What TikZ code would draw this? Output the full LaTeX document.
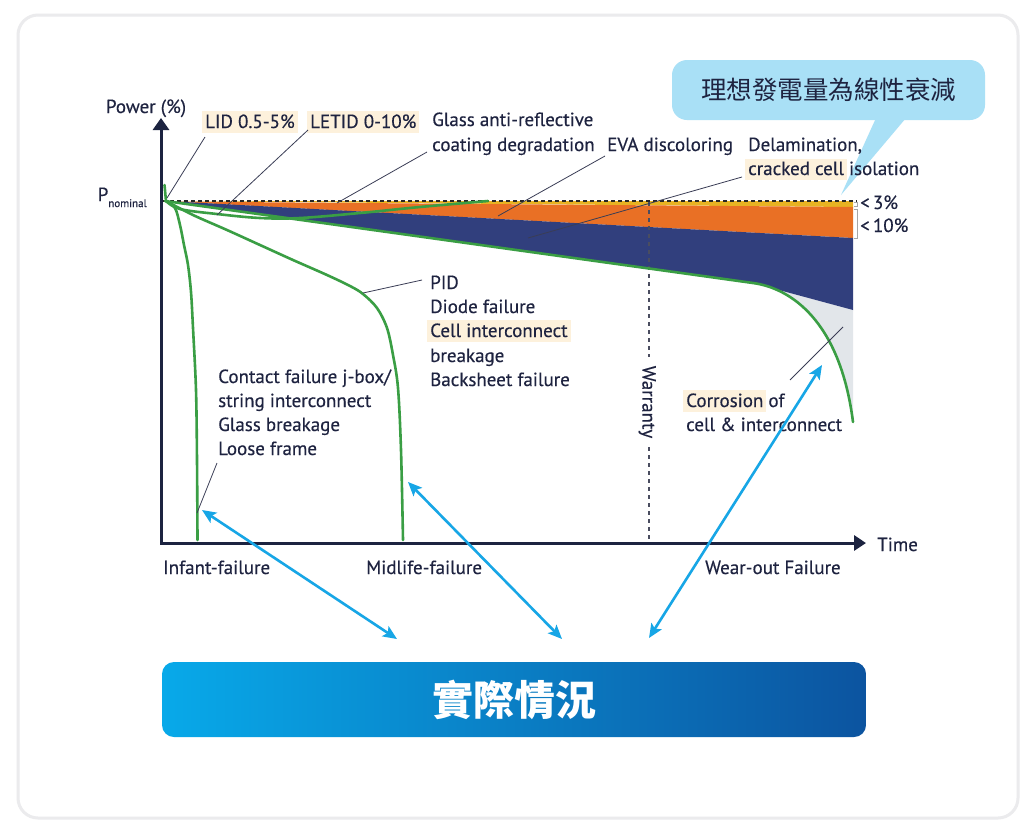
\documentclass[tikz,border=0pt]{standalone}
\usepackage{fontspec}
\setmainfont{PT Sans}[FakeBold=0.35]
\newfontfamily\cjk{Noto Sans CJK TC}
\usetikzlibrary{arrows.meta}
\definecolor{txt}{HTML}{1E2340}
\definecolor{axisc}{HTML}{1C2340}
\definecolor{grn}{HTML}{3A9E44}
\definecolor{yel}{HTML}{E8B322}
\definecolor{ora}{HTML}{E97025}
\definecolor{nav}{HTML}{313F7D}
\definecolor{gry}{HTML}{E2E6EA}
\definecolor{hl}{HTML}{FDF1DC}
\definecolor{arr}{HTML}{17A6E6}
\definecolor{bubc}{HTML}{A9E0F6}
\definecolor{frm}{HTML}{EBEBED}
\definecolor{barl}{HTML}{08A9E9}
\definecolor{barr}{HTML}{0C54A0}
\definecolor{ann}{HTML}{3A3D55}
\definecolor{warc}{HTML}{4A4D60}
\newcommand\hlbox[1]{{\setlength{\fboxsep}{3pt}\hspace{-3pt}\colorbox{hl}{\rule[-1.5pt]{0pt}{14pt}#1}\hspace{-3pt}}}
\begin{document}
\begin{tikzpicture}[x=1pt,y=-1pt,
  lbl/.style={font=\fontsize{19}{22}\selectfont, text=txt, inner sep=0pt, anchor=base west},
  grline/.style={grn, line width=2.6pt, line cap=round, line join=round},
  annline/.style={ann, line width=0.8pt},
  warline/.style={warc, line width=1.3pt, dash pattern=on 4pt off 4pt},
  bluearrow/.style={arr, line width=2.6pt, {Stealth[length=14pt,width=12pt,inset=3pt]}-{Stealth[length=14pt,width=12pt,inset=3pt]}},
  axisline/.style={axisc, line width=3pt, {Triangle[length=12pt,width=16pt]}-{Triangle[length=12pt,width=15pt]}}
]
\fill[white] (0,0) rectangle (1035,831);
\useasboundingbox (0,0) rectangle (1035,831);
\draw[frm, line width=3pt, rounded corners=20pt] (18,15) rectangle (1018,818);

% speech bubble (behind the labels)
\coordinate (tailL) at (876,118);
\coordinate (tailT) at (841,195);
\coordinate (tailR) at (906,118);
\fill[bubc] (tailL) -- (tailT) -- (tailR) -- cycle;
\node[fill=bubc, rounded corners=15pt, minimum width=313pt, minimum height=60pt, inner sep=0pt,
      font=\cjk\fontsize{25.5}{28}\selectfont, text=txt] (bub) at (828.5,90) {理想發電量為線性衰減};

% bands
\fill[gry] (753,283) .. controls (790,288) and (840,320) .. (853,422) -- (853,310) -- cycle;
\fill[yel] (168,201) -- (853,201) -- (853,207) -- cycle;
\fill[ora] (172,201.5) -- (853,207) -- (853,238) -- cycle;
\fill[nav] (166,201) -- (853,238) -- (853,310) -- (753,283) -- cycle;

% nominal dashed line
\coordinate (pn0) at (163,201);
\coordinate (pn1) at (857,201);
\draw[black!85, line width=1.2pt, dash pattern=on 4pt off 3pt] (pn0) -- (pn1);

% bracket
\draw[gray!70, line width=0.8pt] (854,202.5) -- (857,202.5) -- (857,206.5) -- (854,206.5);
\draw[gray!70, line width=0.8pt] (854,209) -- (857,209) -- (857,238) -- (854,238);

% warranty
\node[lbl, anchor=center, rotate=-90, inner xsep=9pt, text height=13pt, text depth=0pt] (war) at (649,402) {Warranty};
\coordinate (w0) at (649,202);
\coordinate (w1) at (649,543);
\draw[warline] (w0) -- (war.west);
\draw[warline] (war.east) -- (w1);

% green curves
\draw[grline] (164.5,185) -- (166,201);
\draw[grline] plot[smooth, tension=0.55] coordinates {(166,201) (175,208) (180,225) (184,245) (188,265) (191,292) (193,328) (196,390) (197,460) (197.5,540)};
\draw[grline] plot[smooth, tension=0.55] coordinates {(166,201) (193,215) (227,230) (260,245) (293,260) (327,275) (350,286) (363,294) (377,308) (387,328) (393,355) (398,388) (401,450) (403,540)};
\draw[grline] plot[smooth, tension=0.6] coordinates {(166,201) (180,209) (217,214) (260,218) (300,218) (360,213) (420,207) (488,201)};
\draw[grline] (165,201) -- (753,283) .. controls (790,288) and (840,320) .. (853,422);

% axes
\coordinate (ytip) at (161,118);
\coordinate (orig) at (161,543);
\coordinate (xtip) at (866,543);
\draw[axisline] (ytip) -- (orig) -- (xtip);

% axis labels
\node[lbl, anchor=base] (power) at (146,113) {Power (\%)};
\node[lbl, anchor=base east] (pnom) at (147,201) {P\raisebox{-6pt}{\fontsize{11}{12}\selectfont nominal}};
\node[lbl] (time) at (877,551) {Time};
\node[lbl] (infant) at (163,574) {Infant-failure};
\node[lbl] (mid) at (366,574) {Midlife-failure};
\node[lbl] (wear) at (705,574) {Wear-out Failure};
\node[lbl] (p3) at (860,209) {<\,3\%};
\node[lbl] (p10) at (860,232) {<\,10\%};

% top labels
\node[lbl] (lid) at (205,128) {\hlbox{LID 0.5-5\%}};
\node[lbl] (letid) at (310,128) {\hlbox{LETID 0-10\%}};
\node[lbl] (glass1) at (432,126) {Glass anti-reflective};
\node[lbl] (glass2) at (432,151) {coating degradation};
\node[lbl] (eva) at (607,151) {EVA discoloring};
\node[lbl] (delam1) at (748,151) {Delamination,};
\node[lbl] (delam2) at (748,175) {\hlbox{cracked cell} isolation};

% middle labels
\node[lbl] (pid1) at (430,289) {PID};
\node[lbl] (pid2) at (430,313) {Diode failure};
\node[lbl] (pid3) at (430,337) {\hlbox{Cell interconnect}};
\node[lbl] (pid4) at (430,362) {breakage};
\node[lbl] (pid5) at (430,386) {Backsheet failure};
\node[lbl] (con1) at (218,383) {Contact failure j-box/};
\node[lbl] (con2) at (218,407) {string interconnect};
\node[lbl] (con3) at (218,431) {Glass breakage};
\node[lbl] (con4) at (218,455) {Loose frame};
\node[lbl] (cor1) at (686,407) {\hlbox{Corrosion} of};
\node[lbl] (cor2) at (686,431) {cell \& interconnect};

% annotation lines
\coordinate (aLid0) at (205,137); \coordinate (aLid1) at (167,198);
\coordinate (aLet0) at (308,130); \coordinate (aLet1) at (217,215);
\coordinate (aGl0) at (427,152); \coordinate (aGl1) at (337,203);
\coordinate (aEva0) at (605,156); \coordinate (aEva1) at (498,216);
\coordinate (aDel0) at (742,177); \coordinate (aDel1) at (528,238);
\coordinate (aPid0) at (422,280); \coordinate (aPid1) at (363,293);
\coordinate (aCon0) at (217,463); \coordinate (aCon1) at (197,513);
\coordinate (aCor0) at (790,380); \coordinate (aCor1) at (843,327);
\draw[annline] (aLid0) -- (aLid1);
\draw[annline] (aLet0) -- (aLet1);
\draw[annline] (aGl0) -- (aGl1);
\draw[annline] (aEva0) -- (aEva1);
\draw[annline] (aDel0) -- (aDel1);
\draw[annline] (aPid0) -- (aPid1);
\draw[annline] (aCon0) -- (aCon1);
\draw[annline] (aCor0) -- (aCor1);

% bottom bar
\node[rounded corners=12pt, left color=barl, right color=barr, minimum width=704pt, minimum height=75pt,
      inner sep=0pt, font=\cjk\bfseries\fontsize{41}{44}\selectfont, text=white] (bar) at (514,699.5) {實際情況};

% blue arrows
\coordinate (b1a) at (202,510); \coordinate (b1b) at (397,639);
\coordinate (b2a) at (408,482); \coordinate (b2b) at (562,639);
\coordinate (b3a) at (822,365); \coordinate (b3b) at (649,638);
\draw[bluearrow] (b1a) -- (b1b);
\draw[bluearrow] (b2a) -- (b2b);
\draw[bluearrow] (b3a) -- (b3b);
\end{tikzpicture}
\end{document}
